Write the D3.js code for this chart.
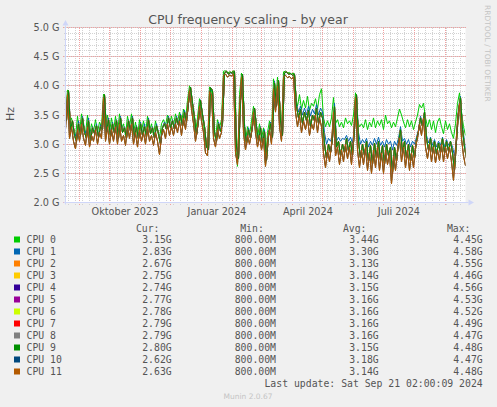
<!DOCTYPE html>
<html>
<head>
<meta charset="utf-8">
<script src="https://cdn.jsdelivr.net/npm/d3@7"></script>
<style>
  body { margin: 0; background: #f0f0f0; }
  svg { display: block; }
</style>
</head>
<body>
<div id="chart"></div>
<script>
// time range of the munin "by year" graph, one reading every 2 days
const START = new Date(Date.UTC(2023, 7, 18, 2));
const END = new Date(Date.UTC(2024, 8, 21, 2));
const STEP_DAYS = 2;

// frequencies in GHz (even days)
const packLo = [3.25,3.85,3.10,3.30,3.05,2.92,3.25,3.05,3.35,3.10,2.98,3.30,2.95,3.15,3.05,3.25,3.00,3.20,3.10,
  3.80,3.05,3.30,3.00,3.25,3.05,3.30,3.00,3.35,3.05,3.15,2.98,3.30,3.10,3.35,3.00,3.20,2.95,3.25,3.05,3.20,3.00,3.30,3.05,3.15,2.98,3.20,3.05,2.82,3.15,
  3.25,3.10,3.35,3.15,3.30,3.15,3.35,3.20,3.40,3.15,3.45,3.25,3.60,
  3.92,3.60,3.35,3.05,3.30,3.65,3.40,3.20,2.85,2.80,3.90,3.85,3.10,2.95,3.25,3.10,3.20,
  4.18,4.20,4.15,4.18,4.17,4.20,
  2.85,2.65,3.60,4.15,3.20,2.90,3.15,3.00,3.20,3.55,3.20,2.95,3.15,2.90,3.10,2.62,3.05,3.25,3.00,3.95,3.55,4.00,3.30,3.05,
  4.15,4.18,4.14,4.16,4.12,4.15,
  3.55,3.30,3.50,3.20,3.40,3.25,3.45,3.15,3.35,3.25,3.50,3.20,3.45,3.30,
  2.85,2.60,2.90,2.70,3.00,3.55,2.80,2.95,2.65,2.90,2.70,3.00,2.75,2.95,2.65,3.10,
  3.80,2.90,2.60,
  2.90,2.65,2.95,2.55,2.85,2.50,2.90,2.60,2.95,2.55,2.85,2.50,2.90,2.65,2.85,2.32,2.80,2.55,2.90,
  3.10,2.70,2.95,2.60,2.90,2.55,2.85,2.60,2.95,3.10,
  3.35,3.15,3.45,2.95,
  2.75,3.00,2.70,2.95,2.68,2.90,2.72,3.00,2.70,2.95,2.75,2.95,2.70,2.38,
  2.90,3.40,3.70,3.10,2.80,2.63];

// upper edge of the bundle (odd days)
const packHi = [3.40,3.92,3.25,3.40,3.15,3.05,3.35,3.15,3.45,3.20,3.10,3.40,3.05,3.28,3.18,3.32,3.12,3.30,3.25,
  3.85,3.20,3.42,3.12,3.35,3.18,3.40,3.10,3.45,3.20,3.28,3.10,3.40,3.22,3.45,3.12,3.30,3.08,3.35,3.15,3.30,3.12,3.42,3.18,3.28,3.10,3.32,3.18,3.00,3.28,
  3.35,3.25,3.45,3.28,3.40,3.25,3.45,3.32,3.50,3.30,3.55,3.38,3.70,
  3.98,3.70,3.45,3.15,3.40,3.75,3.50,3.30,2.95,2.90,3.97,3.92,3.20,3.05,3.35,3.22,3.35,
  4.22,4.25,4.20,4.23,4.22,4.25,
  2.95,2.75,3.75,4.20,3.30,3.00,3.25,3.10,3.30,3.62,3.30,3.05,3.28,3.00,3.22,2.72,3.15,3.35,3.12,4.05,3.65,4.10,3.40,3.15,
  4.22,4.24,4.20,4.21,4.18,4.20,
  3.65,3.45,3.60,3.35,3.55,3.40,3.58,3.30,3.50,3.40,3.62,3.35,3.55,3.45,
  3.00,2.75,3.00,2.85,3.10,3.65,2.95,3.05,2.80,3.00,2.85,3.10,2.88,3.05,2.80,3.25,
  3.85,3.05,2.75,
  3.00,2.80,3.05,2.70,2.98,2.65,3.02,2.75,3.05,2.72,2.98,2.65,3.00,2.80,2.95,2.50,2.95,2.70,3.02,
  3.25,2.85,3.05,2.75,3.00,2.70,2.98,2.75,3.08,3.22,
  3.45,3.30,3.55,3.10,
  2.90,3.10,2.85,3.05,2.82,3.02,2.85,3.10,2.85,3.05,2.88,3.05,2.85,2.55,
  3.05,3.55,3.80,3.25,2.95,2.75];

// CPU 1 (odd days)
const cpu1 = [3.45,3.90,3.30,3.38,3.20,3.10,3.40,3.18,3.48,3.25,3.15,3.45,3.10,3.30,3.20,3.35,3.15,3.33,3.28,
  3.84,3.25,3.45,3.15,3.38,3.20,3.42,3.15,3.48,3.22,3.30,3.12,3.42,3.25,3.48,3.15,3.32,3.10,3.38,3.18,3.35,3.15,3.45,3.20,3.30,3.12,3.35,3.20,3.05,3.30,
  3.38,3.28,3.48,3.30,3.42,3.30,3.48,3.35,3.52,3.32,3.58,3.40,3.72,
  3.97,3.72,3.48,3.18,3.42,3.76,3.52,3.32,2.98,2.92,3.96,3.90,3.22,3.08,3.38,3.25,3.38,
  4.22,4.24,4.20,4.22,4.21,4.24,
  2.98,2.78,3.80,4.20,3.35,3.05,3.28,3.12,3.32,3.62,3.32,3.08,3.30,3.05,3.25,2.75,3.18,3.38,3.15,4.08,3.68,4.10,3.42,3.18,
  4.22,4.23,4.20,4.21,4.18,4.20,
  3.70,3.55,3.65,3.50,3.62,3.50,3.65,3.48,3.60,3.52,3.68,3.50,3.62,3.55,
  3.20,3.00,3.10,3.05,3.15,3.70,3.05,3.12,3.05,3.10,3.08,3.15,3.05,3.12,3.02,3.30,
  3.85,3.20,3.00,
  3.08,3.02,3.10,2.95,3.05,2.98,3.10,3.00,3.12,2.98,3.05,2.95,3.08,3.00,3.05,2.90,3.05,2.98,3.10,
  3.30,3.05,3.10,3.00,3.08,2.95,3.05,3.00,3.12,3.25,
  3.48,3.35,3.55,3.15,
  3.02,3.12,2.98,3.08,2.95,3.05,2.98,3.12,2.95,3.08,2.98,3.05,2.95,2.80,
  3.10,3.60,3.82,3.30,3.05,2.83];

// CPU 0 (even days)
const cpu0 = [3.50,3.93,3.35,3.45,3.25,3.12,3.48,3.20,3.52,3.28,3.18,3.50,3.12,3.35,3.22,3.42,3.20,3.38,3.30,
  3.86,3.30,3.50,3.20,3.45,3.22,3.48,3.18,3.52,3.25,3.35,3.15,3.48,3.30,3.52,3.18,3.38,3.12,3.42,3.22,3.40,3.18,3.48,3.22,3.35,3.15,3.40,3.22,3.10,3.35,
  3.42,3.32,3.50,3.35,3.48,3.32,3.52,3.38,3.55,3.35,3.60,3.42,3.75,
  4.00,3.75,3.50,3.20,3.45,3.78,3.55,3.35,3.00,2.95,3.98,3.95,3.25,3.10,3.42,3.28,3.42,
  4.25,4.26,4.22,4.24,4.23,4.26,
  3.00,2.62,3.85,4.22,3.35,3.05,3.30,3.15,3.40,3.65,3.35,3.10,3.35,3.08,3.28,2.65,3.20,3.40,3.18,4.12,3.70,4.15,3.45,3.20,
  4.24,4.25,4.22,4.23,4.20,4.22,
  3.80,3.65,3.85,3.60,3.75,3.62,3.82,3.58,3.70,3.65,3.78,3.60,3.85,3.95,
  3.45,3.30,3.40,3.30,3.45,3.80,3.35,3.42,3.30,3.38,3.28,3.45,3.35,3.40,3.32,3.50,
  3.88,3.40,3.30,
  3.35,3.28,3.42,3.25,3.38,3.30,3.45,3.28,3.40,3.32,3.42,3.25,3.50,3.35,3.40,3.28,3.38,3.30,3.45,
  3.60,3.50,3.38,3.28,3.42,3.30,3.40,3.25,3.38,3.50,
  3.68,3.62,3.70,3.45,
  3.30,3.42,3.25,3.40,3.20,3.38,3.45,3.30,3.18,3.40,3.25,3.35,3.20,3.10,
  3.35,3.70,3.88,3.55,3.30,3.15];

const cpuNames = ['CPU 0','CPU 1','CPU 2','CPU 3','CPU 4','CPU 5','CPU 6','CPU 7','CPU 8','CPU 9','CPU 10','CPU 11'];
const cpuColors = ['#00cc00','#0066b3','#ff8000','#ffcc00','#330099','#990099','#ccff00','#ff0000','#808080','#008f00','#00487d','#b35a00'];
// cores 2..11 run almost on top of each other; firstDay = day of the first reading
const cpuSeries = [
  { values: cpu0, firstDay: 0 },
  { values: cpu1, firstDay: 1 },
  { values: packLo, firstDay: 0 },
  { values: packHi, firstDay: 1 },
  { values: packHi, firstDay: 1 },
  { values: packHi, firstDay: 1 },
  { values: packHi, firstDay: 1 },
  { values: packHi, firstDay: 1 },
  { values: packHi, firstDay: 1 },
  { values: packHi, firstDay: 1 },
  { values: packLo, firstDay: 0 },
  { values: packLo, firstDay: 0 }
];

const legendCur = ['3.15G','2.83G','2.67G','2.75G','2.74G','2.77G','2.78G','2.79G','2.79G','2.80G','2.62G','2.63G'];
const legendMin = ['800.00M','800.00M','800.00M','800.00M','800.00M','800.00M','800.00M','800.00M','800.00M','800.00M','800.00M','800.00M'];
const legendAvg = ['3.44G','3.30G','3.13G','3.14G','3.15G','3.16G','3.16G','3.16G','3.16G','3.15G','3.18G','3.14G'];
const legendMax = ['4.45G','4.58G','4.55G','4.46G','4.56G','4.53G','4.52G','4.49G','4.47G','4.48G','4.47G','4.48G'];

const yTicks = [2.0, 2.5, 3.0, 3.5, 4.0, 4.5, 5.0];
const xLabelMonths = [Date.UTC(2023, 9, 1), Date.UTC(2024, 0, 1), Date.UTC(2024, 3, 1), Date.UTC(2024, 6, 1)];
const xLabels = ['Oktober 2023', 'Januar 2024', 'April 2024', 'Juli 2024'];

const W = 497, H = 407;
const sans = 'DejaVu Sans, sans-serif';
const mono = 'DejaVu Sans Mono, monospace';
const txt = '#555';

const svg = d3.select('#chart').append('svg')
  .attr('width', W)
  .attr('height', H)
  .style('background', '#f0f0f0');

const x = d3.scaleUtc().domain([START, END]).range([65.5, 465.5]);
const y = d3.scaleLinear().domain([2, 5]).range([202.5, 27.5]);
const [x0, x1] = x.range();
const [yB, yT] = y.range();
const px = v => Math.round(v - 0.5) + 0.5;

svg.append('clipPath').attr('id', 'plot')
  .append('rect')
  .attr('x', x0).attr('y', yT - 2)
  .attr('width', x1 - x0).attr('height', yB - yT + 2);

// canvas
svg.append('rect')
  .attr('x', x0).attr('y', yT)
  .attr('width', x1 - x0).attr('height', yB - yT)
  .attr('fill', '#fff');

// grid
const grid = svg.append('g').attr('shape-rendering', 'crispEdges');
const minorCol = '#d2d2d2', majorCol = '#f2a0a0';

grid.selectAll('.ymin')
  .data(y.ticks(30))
  .enter().append('line')
  .attr('x1', x0 - 2).attr('x2', x1)
  .attr('y1', d => px(y(d))).attr('y2', d => px(y(d)))
  .attr('stroke', minorCol).attr('stroke-dasharray', '1,1');

grid.selectAll('.xmin')
  .data(d3.utcMonday.range(START, END))
  .enter().append('line')
  .attr('x1', d => px(x(d))).attr('x2', d => px(x(d)))
  .attr('y1', yT).attr('y2', yB + 2)
  .attr('stroke', minorCol).attr('stroke-dasharray', '1,1');

grid.selectAll('.ymaj')
  .data(yTicks)
  .enter().append('line')
  .attr('x1', x0 - 3).attr('x2', x1)
  .attr('y1', d => px(y(d))).attr('y2', d => px(y(d)))
  .attr('stroke', majorCol).attr('stroke-dasharray', '1,1');

grid.selectAll('.xmaj')
  .data(d3.utcMonth.range(START, END))
  .enter().append('line')
  .attr('x1', d => px(x(d))).attr('x2', d => px(x(d)))
  .attr('y1', yT).attr('y2', yB + 3)
  .attr('stroke', majorCol).attr('stroke-dasharray', '1,1');

// lines, drawn in order so CPU 11 ends up on top
const line = s => d3.line()
  .x((d, i) => x(d3.utcDay.offset(START, s.firstDay + i * STEP_DAYS)))
  .y(d => y(d))(s.values);

svg.append('g')
  .attr('clip-path', 'url(#plot)')
  .selectAll('path')
  .data(cpuSeries)
  .enter().append('path')
  .attr('d', line)
  .attr('fill', 'none')
  .attr('stroke', (d, i) => cpuColors[i])
  .attr('stroke-width', 1);

// axes
const axisCol = '#cfd6f8';
svg.append('line')
  .attr('x1', x0 - 2).attr('x2', x1 + 3)
  .attr('y1', yB).attr('y2', yB)
  .attr('stroke', axisCol);
svg.append('path')
  .attr('d', `M${x1 + 3},${yB - 3}L${x1 + 8.5},${yB}L${x1 + 3},${yB + 3}Z`)
  .attr('fill', axisCol);
svg.append('line')
  .attr('x1', x0).attr('x2', x0)
  .attr('y1', yB + 2).attr('y2', yT - 2)
  .attr('stroke', axisCol);
svg.append('path')
  .attr('d', `M${x0 - 3},${yT - 2}L${x0},${yT - 7.5}L${x0 + 3},${yT - 2}Z`)
  .attr('fill', axisCol);

const yAxis = svg.append('g')
  .attr('transform', `translate(${x0},0)`)
  .call(d3.axisLeft(y).tickValues(yTicks).tickSize(0).tickPadding(6)
    .tickFormat(d => d.toFixed(1) + ' G'));
yAxis.select('.domain').remove();
yAxis.selectAll('text')
  .attr('font-family', sans).attr('font-size', 9.7).attr('fill', txt);

const xAxis = svg.append('g')
  .attr('transform', `translate(0,${yB})`)
  .call(d3.axisBottom(x)
    .tickValues(xLabelMonths.map(m => d3.utcDay.offset(new Date(m), 15)))
    .tickSize(0).tickPadding(6)
    .tickFormat((d, i) => xLabels[i]));
xAxis.select('.domain').remove();
xAxis.selectAll('text')
  .attr('font-family', sans).attr('font-size', 9.7).attr('fill', txt);

// title, unit, watermark
svg.append('text')
  .attr('x', 248).attr('y', 24)
  .attr('text-anchor', 'middle')
  .attr('font-family', sans).attr('font-size', 12.5).attr('fill', txt)
  .text('CPU frequency scaling - by year');

svg.append('text')
  .attr('transform', 'translate(14,114) rotate(-90)')
  .attr('text-anchor', 'middle')
  .attr('font-family', sans).attr('font-size', 11).attr('fill', txt)
  .text('Hz');

svg.append('text')
  .attr('transform', 'translate(485,5) rotate(90)')
  .attr('font-family', sans).attr('font-size', 7.5).attr('fill', '#c4c4c4')
  .text('RRDTOOL / TOBI OETIKER');

// legend
const lg = svg.append('g')
  .attr('font-family', mono).attr('font-size', 9.8).attr('fill', txt);

const cols = [
  { head: 'Cur:', right: 171.7, vals: legendCur },
  { head: 'Min:', right: 276, vals: legendMin },
  { head: 'Avg:', right: 378.7, vals: legendAvg },
  { head: 'Max:', right: 482.7, vals: legendMax }
];
const rowY = i => 243 + i * 12;

cols.forEach(c => {
  lg.append('text')
    .attr('x', c.right - 12.2).attr('y', 231.5)
    .attr('text-anchor', 'end')
    .text(c.head);
  lg.selectAll(null)
    .data(c.vals)
    .enter().append('text')
    .attr('x', c.right).attr('y', (d, i) => rowY(i))
    .attr('text-anchor', 'end')
    .text(d => d);
});

lg.selectAll('rect')
  .data(cpuNames)
  .enter().append('rect')
  .attr('x', 14).attr('y', (d, i) => rowY(i) - 6.5)
  .attr('width', 6).attr('height', 6)
  .attr('fill', (d, i) => cpuColors[i]);

lg.selectAll('.name')
  .data(cpuNames)
  .enter().append('text')
  .attr('x', 26.5).attr('y', (d, i) => rowY(i))
  .text(d => d);

lg.append('text')
  .attr('x', 482.7).attr('y', 387)
  .attr('text-anchor', 'end')
  .text('Last update: Sat Sep 21 02:00:09 2024');

svg.append('text')
  .attr('x', 248).attr('y', 399)
  .attr('text-anchor', 'middle')
  .attr('font-family', sans).attr('font-size', 7.5).attr('fill', '#c4c4c4')
  .text('Munin 2.0.67');
</script>
</body>
</html>
